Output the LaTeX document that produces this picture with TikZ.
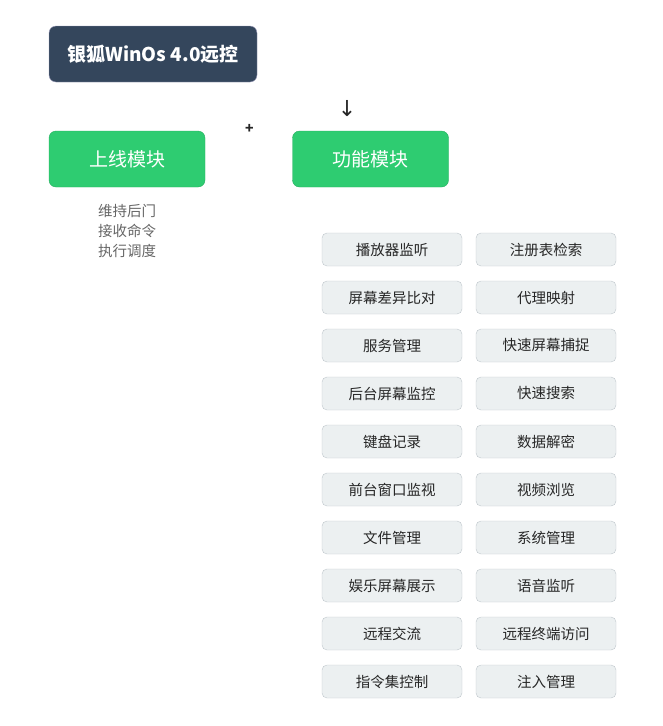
\documentclass[tikz,border=0pt]{standalone}
\usepackage{fontspec}
\setmainfont{Noto Sans CJK SC}
\newfontfamily\symfont{DejaVu Sans}
\begin{document}
\begin{tikzpicture}[
      x=1pt, y=-1pt,
      title/.style={draw=black!70!blue!40, fill=dkblue, rounded corners=7pt, minimum width=208pt, minimum height=56pt, inner sep=0pt, text=white, font=\fontsize{19}{22}\selectfont\bfseries},
      module/.style={draw=grnborder, fill=grn, rounded corners=7pt, minimum width=156pt, minimum height=56pt, inner sep=0pt, text=white, font=\fontsize{19}{22}\selectfont},
      feature/.style={draw=gryborder, fill=gry, rounded corners=5pt, minimum width=140pt, minimum height=33pt, inner sep=0pt, text=black!85, font=\fontsize{14.5}{17}\selectfont},
      note/.style={text=black!60, align=center, font=\fontsize{14.5}{20}\selectfont},
      sign/.style={text=black!85, inner sep=0pt}
    ]
    \definecolor{dkblue}{HTML}{34465C}
    \definecolor{grn}{HTML}{2ECC71}
    \definecolor{grnborder}{HTML}{27AE60}
    \definecolor{gry}{HTML}{ECF0F1}
    \definecolor{gryborder}{HTML}{BFC6CB}
    \useasboundingbox (0,0) rectangle (663,726);
    % Draw the title and the two modules.
    \node[title] (root) at (153,54) {银狐WinOs 4.0远控};
    \node[module] (online) at (127,159) {上线模块};
    \node[module] (func) at (370.5,159) {功能模块};
    \node[sign, font=\fontsize{14}{14}\selectfont\bfseries] (plus) at (249.5,129) {+};
    \node[sign, font=\symfont\fontsize{22}{22}\selectfont] (down) at (347,108.5) {↓};
    % Draw the duties of the online module.
    \node[note] (duties) at (127,231) {维持后门\\接收命令\\执行调度};
    % Draw the features, left column.
    \node[feature] (f1)  at (392,249.5) {播放器监听};
    \node[feature] (f3)  at (392,297.5) {屏幕差异比对};
    \node[feature] (f5)  at (392,345.5) {服务管理};
    \node[feature] (f7)  at (392,393.5) {后台屏幕监控};
    \node[feature] (f9)  at (392,441.5) {键盘记录};
    \node[feature] (f11) at (392,489.5) {前台窗口监视};
    \node[feature] (f13) at (392,537.5) {文件管理};
    \node[feature] (f15) at (392,585.5) {娱乐屏幕展示};
    \node[feature] (f17) at (392,633.5) {远程交流};
    \node[feature] (f19) at (392,681.5) {指令集控制};
    % Draw the features, right column.
    \node[feature] (f2)  at (546,249.5) {注册表检索};
    \node[feature] (f4)  at (546,297.5) {代理映射};
    \node[feature] (f6)  at (546,345.5) {快速屏幕捕捉};
    \node[feature] (f8)  at (546,393.5) {快速搜索};
    \node[feature] (f10) at (546,441.5) {数据解密};
    \node[feature] (f12) at (546,489.5) {视频浏览};
    \node[feature] (f14) at (546,537.5) {系统管理};
    \node[feature] (f16) at (546,585.5) {语音监听};
    \node[feature] (f18) at (546,633.5) {远程终端访问};
    \node[feature] (f20) at (546,681.5) {注入管理};
    \end{tikzpicture}
\end{document}
